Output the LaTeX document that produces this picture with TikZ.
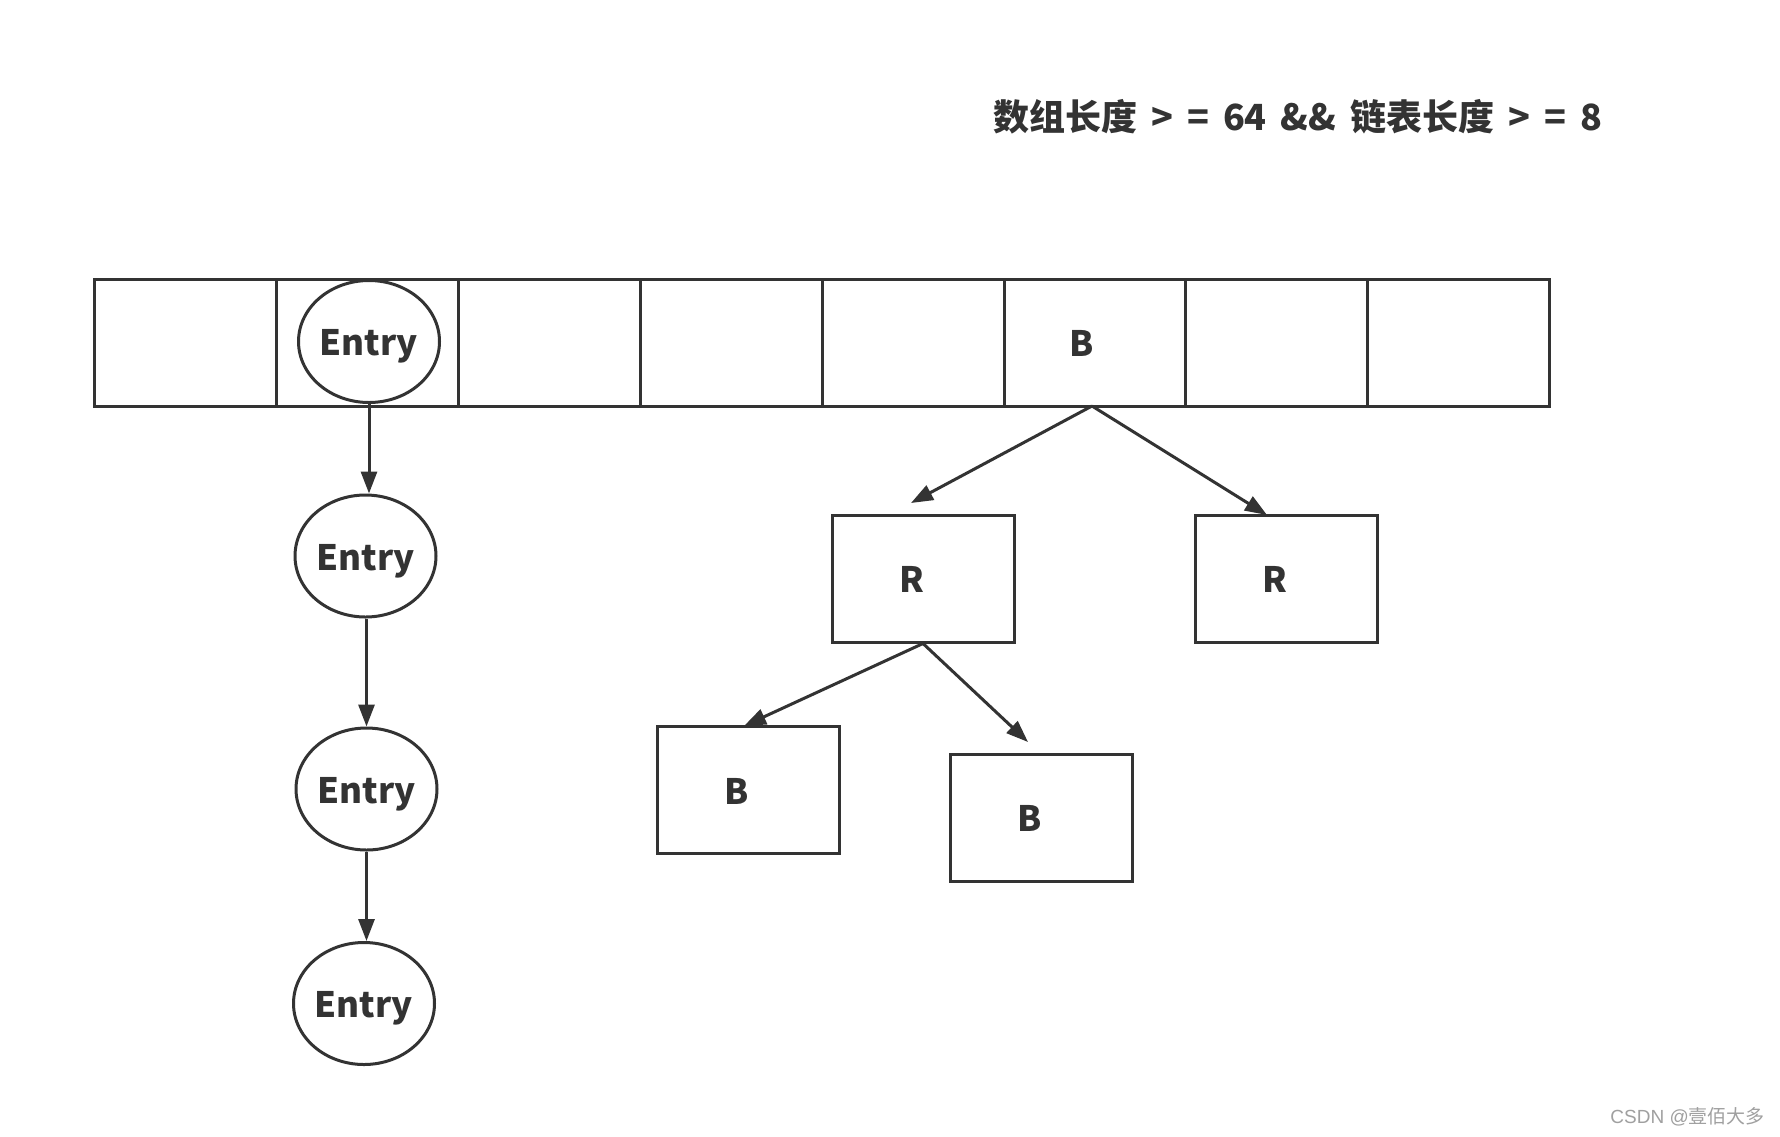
\documentclass[tikz,border=0pt]{standalone}
\usepackage{fontspec}
\newfontfamily\cjk{Noto Sans CJK SC}
\newfontfamily\cjkwide{Noto Sans CJK SC}[WordSpace=1.7]
\newfontfamily\lat{Liberation Sans}
\usetikzlibrary{arrows.meta,shapes.geometric,positioning}
\definecolor{ink}{HTML}{333333}
\definecolor{wm}{HTML}{A0A0A0}
\tikzset{
  cell/.style={draw=ink, line width=3pt, minimum width=181.9pt, minimum height=127pt, inner sep=0pt, anchor=north west},
  entry/.style={draw=ink, line width=3pt, ellipse, minimum width=141pt, minimum height=122pt, inner sep=0pt, fill=white, font=\cjk\bfseries\fontsize{35}{40}\selectfont, text=ink, text height=28pt, text depth=0pt},
  tbox/.style={draw=ink, line width=3pt, minimum width=182pt, minimum height=127pt, inner sep=0pt},
  lbl/.style={font=\cjk\bfseries\fontsize{35}{40}\selectfont, text=ink, inner sep=0pt},
  arr/.style={draw=ink, line width=3pt, -{Triangle[length=22pt,width=16pt]}}
}
\begin{document}
\begin{tikzpicture}[x=1pt,y=-1pt]
\useasboundingbox[fill=white] (0,0) rectangle (1780,1136);
% title
\node[font=\cjkwide\bfseries\fontsize{36}{42}\selectfont, text=ink, anchor=west, inner sep=0pt] (title) at (993,117) {数组长度 > = 64 \&\& 链表长度 > = 8};
% array cells
\foreach \i in {1,...,8} {
  \node[cell] (c\i) at ({93+(\i-1)*181.9},278) {};
}
\node[entry] (e1) at (369,341.5) {Entry};
\node[lbl] (bt) at (1082,343) {B};
% linked list
\node[entry] (e2) at (365.5,556) {Entry};
\node[entry] (e3) at (366.5,789) {Entry};
\node[entry] (e4) at (364,1003.5) {Entry};
\draw[arr] (e1.south) -- (e1.south |- e2.north);
\draw[arr] (e3.north |- e2.south) -- (e3.north);
\draw[arr] (e3.south) -- (e3.south |- e4.north);
% tree
\node[tbox] (r1) at (923,578.5) {};
\node[lbl] at (911.5,579) {R};
\node[tbox] (r2) at (1286,578.5) {};
\node[lbl] at (1275,579) {R};
\node[tbox] (b1) at (748,790) {};
\node[lbl] at (737,791) {B};
\node[tbox] (b2) at (1041,817.5) {};
\node[lbl] at (1030,818.5) {B};
\coordinate (t1) at (911,503);
\coordinate (t2) at (1267,515);
\coordinate (t3) at (744,726);
\coordinate (t4) at (1028,742);
\coordinate (s0) at (1092,406);
\draw[arr] (s0) -- (t1);
\draw[arr] (s0) -- (t2);
\draw[arr] (r1.south) -- (t3);
\draw[arr] (r1.south) -- (t4);
% watermark
\node[text=wm, anchor=east, inner sep=0pt] (wmk) at (1765,1117) {\fontsize{19}{21}\selectfont\lat CSDN @\cjk 壹佰大多};
\end{tikzpicture}
\end{document}
